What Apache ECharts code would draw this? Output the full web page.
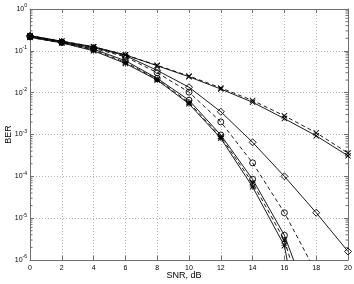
<!DOCTYPE html>
<html><head><meta charset="utf-8">
<script src="https://cdn.jsdelivr.net/npm/echarts@6/dist/echarts.min.js"></script>
<style>html,body{margin:0;padding:0;background:#fff}#c{width:354px;height:284px}</style>
</head><body><div id="c"></div>
<script>
const snr = [0,2,4,6,8,10,12,14,16,18,20];
const xTickLabels = ['0','2','4','6','8','10','12','14','16','18','20'];
const yTickExponents = [0,-1,-2,-3,-4,-5,-6];
// series values (BER)
const berXSolid   = [0.23,0.17,0.125,0.08,0.044,0.024,0.0122,0.0059,0.0024,0.00093,0.00031];
const berXDashed  = [0.23,0.17,0.125,0.08,0.045,0.025,0.013,0.0065,0.0028,0.0011,0.00036];
const berDiamond  = [0.23,0.165,0.12,0.077,0.034,0.0135,0.0035,0.00065,0.0001,0.0000135,0.0000016];
const berCircDash = [0.22,0.16,0.115,0.072,0.030,0.0103,0.002,0.00021,0.0000135,0.0000005,null];
const berCircSolid= [0.22,0.16,0.11,0.058,0.022,0.0066,0.00097,0.000085,0.0000039,0.000000035,null];
const berStarDash = [0.21,0.155,0.105,0.053,0.021,0.0058,0.00088,0.00007,0.000003,0.00000001,null];
const berStarSolid= [0.21,0.155,0.10,0.05,0.020,0.0054,0.00081,0.000056,0.0000022,0.0000000002,null];
const minorMantissas = [2,3,4,5,6,7,8,9];

const pair = (ys) => snr.map((x,i)=>[x, ys[i]]);
const xSym = 'path://M0,1L1,0L5,4L9,0L10,1L6,5L10,9L9,10L5,6L1,10L0,9L4,5Z';
const starSym = 'path://M0,1L1,0L5,4L9,0L10,1L6,5L10,9L9,10L5,6L1,10L0,9L4,5Z M4.5,0L5.5,0L5.5,10L4.5,10Z M0,4.5L10,4.5L10,5.5L0,5.5Z';

function lineSeries(ys, dashed, symbol, size, filled){
  return {
    type:'line', data: pair(ys), xAxisIndex:0, yAxisIndex:0,
    symbol: symbol, symbolSize: size, showSymbol:true, connectNulls:false,
    lineStyle:{color:'#000', width:0.9, type: dashed ? [4,3] : 'solid'},
    itemStyle:{color: filled ? '#000' : 'rgba(0,0,0,0)', borderColor:'#000', borderWidth: filled?0:0.9},
    emphasis:{disabled:true}, animation:false, z:3
  };
}

const minorVals = [];
for (const e of yTickExponents.slice(1)) for (const m of minorMantissas) minorVals.push(m*Math.pow(10,e));

const chart = echarts.init(document.getElementById('c'), null, {renderer:'canvas'});
const axisGray = '#6e6e6e';
const fontFam = '"Liberation Sans", Arial, sans-serif';
chart.setOption({
  animation:false,
  grid:{left:30, right:6, top:9, bottom:24, containLabel:false, outerBoundsMode:'none'},
  xAxis:[{
    type:'value', min:0, max:20, interval:2, position:'bottom',
    axisLine:{show:true, lineStyle:{color:axisGray, width:1}},
    axisTick:{show:true, inside:true, length:4, lineStyle:{color:axisGray}},
    axisLabel:{color:'#000', fontSize:7, fontFamily:fontFam, margin:5,
      formatter:(v)=>xTickLabels[Math.round(v/2)]},
    splitLine:{show:true, lineStyle:{color:'#b5b5b5', type:[1,2], width:1}},
    name:'SNR, dB', nameLocation:'middle', nameGap:11, nameMoveOverlap:false,
    nameTextStyle:{color:'#000', fontSize:9, fontFamily:fontFam, padding:[0,10,0,0]}
  },{
    type:'value', min:0, max:20, interval:2, position:'top',
    axisLine:{show:true, onZero:false, lineStyle:{color:axisGray, width:1}},
    axisTick:{show:true, inside:true, length:4, lineStyle:{color:axisGray}},
    axisLabel:{show:false}, splitLine:{show:false}
  }],
  yAxis:[{
    type:'log', logBase:10, min:1e-6, max:1, position:'left',
    axisLine:{show:true, lineStyle:{color:axisGray, width:1}},
    axisTick:{show:true, inside:true, length:4, lineStyle:{color:axisGray}},
    axisLabel:{color:'#000', fontFamily:fontFam, margin:3,
      formatter:(v)=>'{b|10}{s|'+Math.round(Math.log10(v))+'}',
      rich:{b:{fontSize:7, fontFamily:fontFam, color:'#000'}, s:{fontSize:5, fontFamily:fontFam, color:'#000', padding:[0,0,6,0]}}},
    splitLine:{show:true, lineStyle:{color:'#b5b5b5', type:[1,2], width:1}},
    name:'BER', nameLocation:'middle', nameGap:17, nameRotate:90, nameMoveOverlap:false,
    nameTextStyle:{color:'#000', fontSize:9, fontFamily:fontFam}
  },{
    type:'log', logBase:10, min:1e-6, max:1, position:'right',
    axisLine:{show:true, onZero:false, lineStyle:{color:axisGray, width:1}},
    axisTick:{show:true, inside:true, length:4, lineStyle:{color:axisGray}},
    axisLabel:{show:false}, splitLine:{show:false}
  }],
  series:[
    {
      type:'custom', data: minorVals.map(v=>[v]), silent:true, z:2, clip:false,
      renderItem:(params, api)=>{
        const v = api.value(0);
        const l = api.coord([0, v]); const r = api.coord([20, v]);
        return {type:'group', children:[
          {type:'line', shape:{x1:l[0], y1:l[1], x2:l[0]+2.5, y2:l[1]}, style:{stroke:axisGray, lineWidth:1}},
          {type:'line', shape:{x1:r[0], y1:r[1], x2:r[0]-2.5, y2:r[1]}, style:{stroke:axisGray, lineWidth:1}}
        ]};
      }
    },
    lineSeries(berXSolid, false, xSym, 6, true),
    lineSeries(berXDashed, true, xSym, 6, true),
    lineSeries(berDiamond, false, 'diamond', 7, false),
    lineSeries(berCircDash, true, 'circle', 6, false),
    lineSeries(berCircSolid, false, 'circle', 6, false),
    lineSeries(berStarDash, true, starSym, 6, true),
    lineSeries(berStarSolid, false, starSym, 6, true)
  ]
});
</script></body></html>
